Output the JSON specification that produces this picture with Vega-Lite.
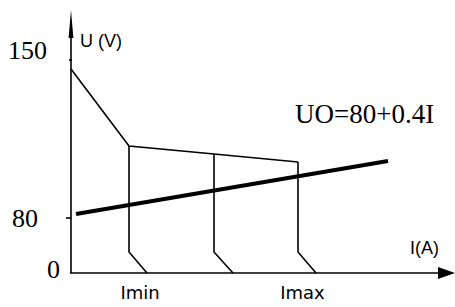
{
  "$schema": "https://vega.github.io/schema/vega-lite/v6.json",
  "width": 455,
  "height": 307,
  "padding": 0,
  "autosize": {"type": "fit", "contains": "padding"},
  "background": "white",
  "config": {"view": {"stroke": null}},
  "datasets": {
    "paths": [
      {"path": "yaxis", "seq": 0, "x": 0, "y": 0},
      {"path": "yaxis", "seq": 1, "x": 0, "y": 236},
      {"path": "xaxis", "seq": 0, "x": -1, "y": 0},
      {"path": "xaxis", "seq": 1, "x": 368, "y": 0},
      {"path": "tick80", "seq": 0, "x": -5, "y": 55},
      {"path": "tick80", "seq": 1, "x": 0, "y": 55},
      {"path": "tick150", "seq": 0, "x": -2, "y": 213},
      {"path": "tick150", "seq": 1, "x": 1, "y": 213},
      {"path": "upper", "seq": 0, "x": 0, "y": 204},
      {"path": "upper", "seq": 1, "x": 58, "y": 127},
      {"path": "upper", "seq": 2, "x": 143, "y": 119},
      {"path": "upper", "seq": 3, "x": 227, "y": 111},
      {"path": "v1", "seq": 0, "x": 58, "y": 127},
      {"path": "v1", "seq": 1, "x": 58, "y": 21},
      {"path": "v1", "seq": 2, "x": 76, "y": 0},
      {"path": "v2", "seq": 0, "x": 143, "y": 119},
      {"path": "v2", "seq": 1, "x": 143, "y": 21},
      {"path": "v2", "seq": 2, "x": 162, "y": 0},
      {"path": "v3", "seq": 0, "x": 227, "y": 111},
      {"path": "v3", "seq": 1, "x": 227, "y": 21},
      {"path": "v3", "seq": 2, "x": 245, "y": 0},
      {"path": "uo", "seq": 0, "x": 5, "y": 59},
      {"path": "uo", "seq": 1, "x": 317, "y": 112}
    ],
    "arrows": [
      {"axis": "x", "x": 375.5, "y": 0},
      {"axis": "y", "x": 0, "y": 249}
    ],
    "ylabels": [
      {"label": "150", "x": -24, "y": 222},
      {"label": "80", "x": -33, "y": 54},
      {"label": "0", "x": -11, "y": 3}
    ],
    "equation": [
      {"label": "UO=80+0.4I", "x": 224, "y": 158}
    ],
    "axistitles": [
      {"label": "U (V)", "x": 9, "y": 231},
      {"label": "I(A)", "x": 339, "y": 24}
    ],
    "currents": [
      {"label": "Imin", "x": 69, "y": -21},
      {"label": "Imax", "x": 231.5, "y": -21}
    ]
  },
  "encoding": {
    "x": {"field": "x", "type": "quantitative", "scale": {"domain": [-71, 384], "nice": false, "zero": false}, "axis": null},
    "y": {"field": "y", "type": "quantitative", "scale": {"domain": [-34, 273], "nice": false, "zero": false}, "axis": null}
  },
  "layer": [
    {
      "data": {"name": "paths"},
      "transform": [{"filter": "datum.path !== 'uo'"}],
      "mark": {"type": "line", "color": "black", "strokeWidth": 1.6, "strokeJoin": "miter"},
      "encoding": {
        "detail": {"field": "path"},
        "order": {"field": "seq", "type": "quantitative"}
      }
    },
    {
      "data": {"name": "paths"},
      "transform": [{"filter": "datum.path === 'uo'"}],
      "mark": {"type": "line", "color": "black", "strokeWidth": 4},
      "encoding": {
        "detail": {"field": "path"},
        "order": {"field": "seq", "type": "quantitative"}
      }
    },
    {
      "data": {"name": "arrows"},
      "transform": [{"filter": "datum.axis === 'x'"}],
      "mark": {"type": "point", "shape": "M1,0L-1,-0.7L-1,0.7Z", "filled": true, "opacity": 1, "color": "black", "size": 289, "strokeWidth": 0}
    },
    {
      "data": {"name": "arrows"},
      "transform": [{"filter": "datum.axis === 'y'"}],
      "mark": {"type": "point", "shape": "M0,-1L0.17,1L-0.17,1Z", "filled": true, "opacity": 1, "color": "black", "size": 784, "strokeWidth": 0}
    },
    {
      "data": {"name": "ylabels"},
      "mark": {"type": "text", "font": "Liberation Serif", "fontSize": 26, "align": "right", "baseline": "middle", "color": "black"},
      "encoding": {"text": {"field": "label"}}
    },
    {
      "data": {"name": "equation"},
      "mark": {"type": "text", "font": "Liberation Serif", "fontSize": 27, "align": "left", "baseline": "middle", "color": "black"},
      "encoding": {"text": {"field": "label"}}
    },
    {
      "data": {"name": "axistitles"},
      "mark": {"type": "text", "font": "Liberation Sans", "fontSize": 18, "align": "left", "baseline": "middle", "color": "black"},
      "encoding": {"text": {"field": "label"}}
    },
    {
      "data": {"name": "currents"},
      "mark": {"type": "text", "font": "DejaVu Sans", "fontSize": 18, "align": "center", "baseline": "middle", "color": "black"},
      "encoding": {"text": {"field": "label"}}
    }
  ]
}
